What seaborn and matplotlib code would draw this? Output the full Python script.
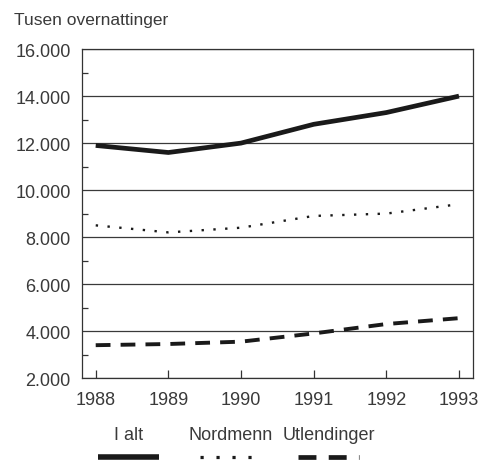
import matplotlib
matplotlib.use("Agg")
import matplotlib.pyplot as plt
from matplotlib.lines import Line2D
from matplotlib.ticker import FuncFormatter, MultipleLocator
import pandas as pd
import seaborn as sns

years = [1988, 1989, 1990, 1991, 1992, 1993]
i_alt = [11900, 11600, 12000, 12800, 13300, 14000]
nordmenn = [8500, 8200, 8400, 8900, 9000, 9400]
utlendinger = [3400, 3450, 3550, 3900, 4300, 4550]
series_names = ["I alt", "Nordmenn", "Utlendinger"]
y_title = "Tusen overnattinger"

df = pd.DataFrame({"year": years * 3,
                   "value": i_alt + nordmenn + utlendinger,
                   "serie": [n for n in series_names for _ in years]})

sns.set_style("white")
plt.rcParams["font.family"] = ["Liberation Sans", "DejaVu Sans"]

styles = {
    "I alt": dict(lw=3.4, dashes=None),
    "Nordmenn": dict(lw=1.7, dashes=(1, 4)),
    "Utlendinger": dict(lw=2.8, dashes=(3.8, 2.6)),
}

fig = plt.figure(figsize=(4.79, 4.64), dpi=100)
ax = fig.add_axes([0.171, 0.183, 0.816, 0.709])

for name in series_names:
    sub = df[df["serie"] == name]
    st = styles[name]
    sns.lineplot(data=sub, x="year", y="value", ax=ax, color="#1a1a1a",
                 lw=st["lw"], legend=False)
    if st["dashes"]:
        ax.lines[-1].set_dashes(st["dashes"])
    ax.lines[-1].set_solid_capstyle("butt")
    ax.lines[-1].set_dash_capstyle("butt")

ax.set_xlim(1987.81, 1993.19)
ax.set_ylim(2000, 16000)
ax.set_xticks(years)
ax.yaxis.set_major_locator(MultipleLocator(2000))
ax.yaxis.set_minor_locator(MultipleLocator(1000))
ax.yaxis.set_major_formatter(FuncFormatter(lambda v, p: f"{int(v):,}".replace(",", ".")))
ax.grid(axis="y", color="#3a3a3a", lw=0.9)
ax.set_axisbelow(True)
ax.tick_params(axis="x", direction="in", length=6, width=0.9, color="#333333",
               labelsize=13, labelcolor="#3a3a3a", pad=9, bottom=True)
ax.tick_params(axis="y", which="major", length=0, labelsize=13,
               labelcolor="#3a3a3a", pad=8, left=True)
ax.tick_params(axis="y", which="minor", direction="in", length=4, width=0.9,
               color="#333333", left=True)
for s in ax.spines.values():
    s.set_visible(True)
    s.set_color("#333333")
    s.set_linewidth(0.9)
ax.set_xlabel("")
ax.set_ylabel("")

fig.text(0.029, 0.955, y_title, fontsize=12.5, color="#3a3a3a", va="center")

# legend: label above a short line sample
leg_x = [0.268, 0.481, 0.686]
for name, cx in zip(series_names, leg_x):
    st = styles[name]
    fig.text(cx, 0.062, name, fontsize=13, color="#3a3a3a", ha="center", va="center")
    ln = Line2D([cx - 0.063, cx + 0.063], [0.013, 0.013], transform=fig.transFigure,
                color="#1a1a1a", lw=st["lw"] + 0.6, solid_capstyle="butt",
                dash_capstyle="butt")
    if st["dashes"]:
        ln.set_dashes(st["dashes"])
    fig.add_artist(ln)

fig.savefig("out.png", dpi=100)
